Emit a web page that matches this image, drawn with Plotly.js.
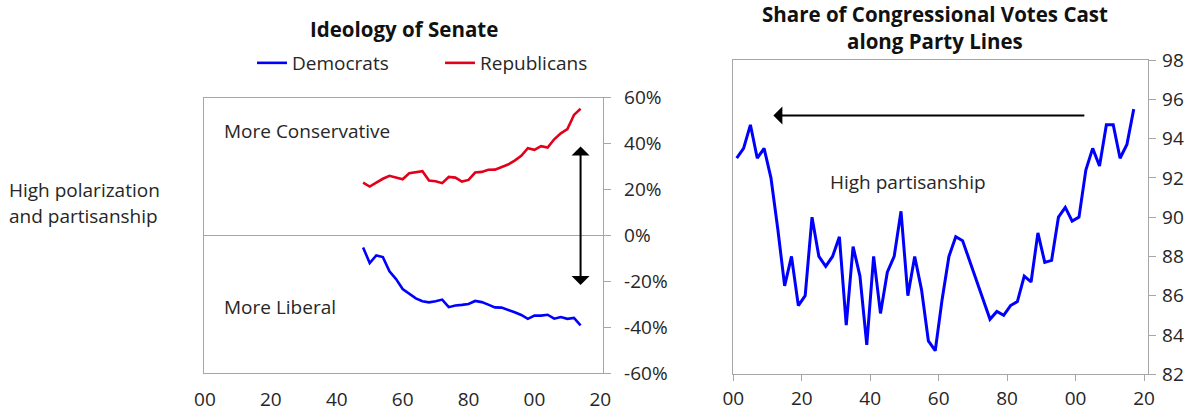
<!DOCTYPE html>
<html>
<head>
<meta charset="utf-8">
<script src="https://cdn.plot.ly/plotly-3.0.1.min.js"></script>
<style>html,body{margin:0;padding:0;background:#fff;}#chart{width:1198px;height:414px;}</style>
</head>
<body>
<div id="chart"></div>
<script>
// ---- Left panel: Ideology of Senate ----
const senateYears = [1948,1950,1952,1954,1956,1958,1960,1962,1964,1966,1968,1970,1972,1974,1976,1978,1980,1982,1984,1986,1988,1990,1992,1994,1996,1998,2000,2002,2004,2006,2008,2010,2012,2014];
const democrats = [-5.2,-12.0,-8.7,-9.4,-15.6,-19.0,-23.3,-25.2,-27.4,-28.6,-29.1,-28.6,-27.9,-31.2,-30.5,-30.2,-29.8,-28.5,-29.0,-30.1,-31.3,-31.4,-32.3,-33.4,-34.6,-36.3,-34.9,-34.9,-34.5,-36.2,-35.5,-36.3,-35.9,-39.1];
const republicans = [23.0,21.3,23.0,24.7,26.0,25.4,24.5,27.1,27.7,28.0,23.9,23.6,22.8,25.5,25.2,23.5,24.2,27.4,27.7,28.6,28.7,29.9,30.9,32.6,34.7,38.0,37.3,38.9,38.3,41.9,44.5,46.3,52.5,55.2];

// ---- Right panel: Share of congressional votes cast along party lines ----
const voteYears = [1901,1903,1905,1907,1909,1911,1913,1915,1917,1919,1921,1923,1925,1927,1929,1931,1933,1935,1937,1939,1941,1943,1945,1947,1949,1951,1953,1955,1957,1959,1961,1963,1965,1967,1975,1977,1979,1981,1983,1985,1987,1989,1991,1993,1995,1997,1999,2001,2003,2005,2007,2009,2011,2013,2015,2017];
const partyLineShare = [93.0,93.5,94.7,93.0,93.5,92.0,89.4,86.5,88.0,85.5,86.0,90.0,88.0,87.5,88.0,89.0,84.5,88.5,87.0,83.5,88.0,85.1,87.2,88.0,90.3,86.0,88.0,86.3,83.7,83.2,85.8,88.0,89.0,88.8,84.8,85.2,85.0,85.5,85.7,87.0,86.7,89.2,87.7,87.8,90.0,90.5,89.8,90.0,92.4,93.5,92.6,94.7,94.7,93.0,93.7,95.5];

// ---- Tick labels ----
const yearTickVals = [1900,1920,1940,1960,1980,2000,2020];
const yearTickText = ['00','20','40','60','80','00','20'];
const ideologyTickVals = [-60,-40,-20,0,20,40,60];
const ideologyTickText = ['-60%','-40%','-20%','0%','20%','40%','60%'];
const shareTickVals = [82,84,86,88,90,92,94,96,98];

const FONT = '"Open Sans", "DejaVu Sans", sans-serif';
const TXT = '#262626';
const AX = '#a6a6a6';
const FS = 19;
const TS = 20.5;
const W = 1198, H = 414;
const px = v => v / W;
const py = v => 1 - v / H;

const traces = [
  {x: senateYears, y: democrats, name: 'Democrats', type: 'scatter', mode: 'lines',
   line: {color: '#0000ff', width: 2.6}, xaxis: 'x', yaxis: 'y', hoverinfo: 'skip'},
  {x: senateYears, y: republicans, name: 'Republicans', type: 'scatter', mode: 'lines',
   line: {color: '#e3001b', width: 2.6}, xaxis: 'x', yaxis: 'y', hoverinfo: 'skip'},
  {x: voteYears, y: partyLineShare, name: 'Party-line votes', type: 'scatter', mode: 'lines',
   line: {color: '#0000ff', width: 3}, xaxis: 'x2', yaxis: 'y2', showlegend: false, hoverinfo: 'skip'}
];

const leftY = [py(373.3), py(97.7)];
const rightY = [py(374.3), py(60)];

const layout = {
  width: W, height: H,
  margin: {l: 0, r: 0, t: 0, b: 0},
  paper_bgcolor: '#fff', plot_bgcolor: '#fff',
  font: {family: FONT, size: FS, color: TXT},
  showlegend: true,
  legend: {orientation: 'h', x: px(252), y: py(44), xanchor: 'left', yanchor: 'top',
           font: {family: FONT, size: FS, color: TXT}, entrywidth: 143, entrywidthmode: 'pixels',
           bgcolor: 'rgba(0,0,0,0)', itemclick: false},
  xaxis: {domain: [px(204.3), px(603.3)], range: [1899.8, 2020.9], anchor: 'y',
          showgrid: false, zeroline: false, showline: true, mirror: true, linecolor: AX, linewidth: 1,
          ticks: '', tickvals: yearTickVals, ticktext: yearTickText, ticklabelstandoff: 9,
          tickfont: {family: FONT, size: FS, color: TXT}},
  xaxis3: {overlaying: 'x', matches: 'x', anchor: 'free', position: py(235.7),
           showgrid: false, zeroline: false, showline: false, ticks: 'outside', ticklen: 6,
           tickcolor: AX, tickvals: yearTickVals, showticklabels: false},
  yaxis: {domain: leftY, range: [-60, 60], anchor: 'x', side: 'right',
          showgrid: false, zeroline: true, zerolinecolor: AX, zerolinewidth: 1,
          showline: true, mirror: true, linecolor: AX, linewidth: 1,
          ticks: 'outside', ticklen: 7, tickcolor: AX, ticklabelstandoff: 9,
          tickvals: ideologyTickVals, ticktext: ideologyTickText,
          tickfont: {family: FONT, size: FS, color: TXT}},
  xaxis2: {domain: [px(733.3), px(1148.3)], range: [1900, 2021.25], anchor: 'y2',
           showgrid: false, zeroline: false, showline: true, mirror: true, linecolor: AX, linewidth: 1,
           ticks: 'outside', ticklen: 6, tickcolor: AX, ticklabelstandoff: 1,
           tickvals: yearTickVals, ticktext: yearTickText,
           tickfont: {family: FONT, size: FS, color: TXT}},
  yaxis2: {domain: rightY, range: [82, 98], anchor: 'x2', side: 'right',
           showgrid: false, zeroline: false, showline: true, mirror: true, linecolor: AX, linewidth: 1,
           ticks: 'outside', ticklen: 7, tickcolor: AX, ticklabelstandoff: 2,
           tickvals: shareTickVals, tickfont: {family: FONT, size: FS, color: TXT}},
  annotations: [
    {xref: 'paper', yref: 'paper', x: px(404), y: py(29), xanchor: 'center', yanchor: 'middle',
     text: '<b>Ideology of Senate</b>', showarrow: false, font: {family: FONT, size: TS, color: '#111'}},
    {xref: 'paper', yref: 'paper', x: px(935), y: py(14), xanchor: 'center', yanchor: 'middle',
     text: '<b>Share of Congressional Votes Cast</b>', showarrow: false, font: {family: FONT, size: TS, color: '#111'}},
    {xref: 'paper', yref: 'paper', x: px(935), y: py(41), xanchor: 'center', yanchor: 'middle',
     text: '<b>along Party Lines</b>', showarrow: false, font: {family: FONT, size: TS, color: '#111'}},
    {xref: 'paper', yref: 'paper', x: px(222), y: py(131), xanchor: 'left', yanchor: 'middle',
     text: 'More Conservative', showarrow: false, font: {family: FONT, size: FS, color: TXT}},
    {xref: 'paper', yref: 'paper', x: px(222), y: py(307), xanchor: 'left', yanchor: 'middle',
     text: 'More Liberal', showarrow: false, font: {family: FONT, size: FS, color: TXT}},
    {xref: 'paper', yref: 'paper', x: px(828), y: py(182), xanchor: 'left', yanchor: 'middle',
     text: 'High partisanship', showarrow: false, font: {family: FONT, size: FS, color: TXT}},
    {xref: 'paper', yref: 'paper', x: px(7), y: py(190), xanchor: 'left', yanchor: 'middle',
     text: 'High polarization', showarrow: false, font: {family: FONT, size: FS, color: TXT}},
    {xref: 'paper', yref: 'paper', x: px(7), y: py(216), xanchor: 'left', yanchor: 'middle',
     text: 'and partisanship', showarrow: false, font: {family: FONT, size: FS, color: TXT}},
    // vertical double arrow (left panel)
    {xref: 'x', yref: 'y', x: 2014, y: 38.7, axref: 'x', ayref: 'y', ax: 2014, ay: -22.2,
     text: '', showarrow: true, arrowside: 'end+start', arrowhead: 1, startarrowhead: 1,
     arrowsize: 1.5, startarrowsize: 1.5, arrowwidth: 2, arrowcolor: '#000'},
    // horizontal arrow (right panel)
    {xref: 'x2', yref: 'y2', x: 1911.7, y: 95.17, axref: 'x2', ayref: 'y2', ax: 2003, ay: 95.17,
     text: '', showarrow: true, arrowhead: 1, arrowsize: 1.5, arrowwidth: 2, arrowcolor: '#000'}
  ]
};

Plotly.newPlot('chart', traces, layout, {displayModeBar: false, staticPlot: true});
</script>
</body>
</html>
